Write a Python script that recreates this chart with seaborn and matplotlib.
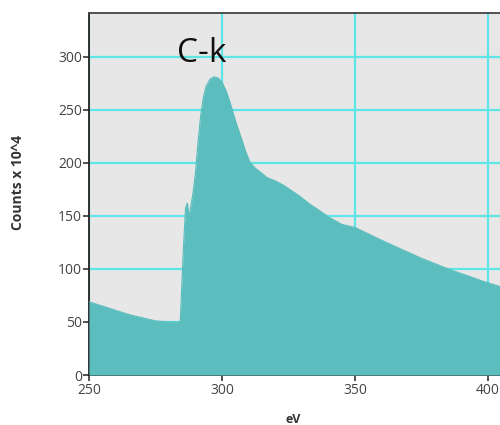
import matplotlib
matplotlib.use("Agg")
import matplotlib.pyplot as plt
import seaborn as sns
import numpy as np
import pandas as pd

# Spectrum values (eV, counts x 10^4)
energy = [250, 255, 260, 265, 270, 275, 280, 283.5, 284.3, 284.8, 285.5, 286.3,
          287.0, 287.5, 288.0, 289.0, 290.0, 291.0, 292.0, 293.0, 294.0, 295.5,
          297.0, 298.5, 300.0, 301.5, 303.0, 305.0, 307.0, 309.0, 310.6, 312.5,
          314.0, 317.0, 320.0, 323.0, 326.0, 329.5, 333.0, 336.0, 340.0, 345.0,
          350.0, 355.0, 360.0, 367.0, 375.0, 386.0, 393.0, 398.5, 405.0]
counts = [69, 65, 61, 57, 54, 51, 50, 50, 51, 80, 120, 158,
          162, 150, 155, 170, 190, 220, 245, 262, 272, 279,
          281, 280, 276, 268, 257, 240, 225, 210, 200, 195,
          192, 186, 183, 179, 174, 168, 161, 156, 149, 142,
          139, 133, 127, 119, 110, 99, 93, 88, 83]

x_ticks = [250, 300, 350, 400]
y_ticks = [0, 50, 100, 150, 200, 250, 300]
peak_label = "C-k"

df = pd.DataFrame({"eV": energy, "counts": counts})

sns.set_theme(style="white")
plt.rcParams["font.family"] = ["Open Sans", "DejaVu Sans"]

fill_color = "#5bbdbd"
grid_color = "#5ee6e6"

fig = plt.figure(figsize=(5.0, 4.25), dpi=100)
ax = fig.add_axes([0.178, 0.1176, 0.822, 0.8514])
ax.set_facecolor("#e7e7e7")

sns.lineplot(data=df, x="eV", y="counts", ax=ax, color=fill_color, linewidth=0.8, zorder=3)
ax.fill_between(df["eV"], df["counts"], 0, color=fill_color, linewidth=0, zorder=3)

ax.set_xlim(250, 404.5)
ax.set_ylim(0, 341)
ax.set_xticks(x_ticks)
ax.set_yticks(y_ticks)
ax.grid(True, color=grid_color, linewidth=1.6, zorder=1)
ax.set_axisbelow(True)

for side in ["left", "bottom"]:
    ax.spines[side].set_color("#222222")
    ax.spines[side].set_linewidth(1.3)
ax.spines["top"].set_color("#444444")
ax.spines["top"].set_linewidth(1.3)
ax.spines["right"].set_visible(False)

ax.tick_params(axis="both", which="major", direction="out", length=4, width=1.1,
               color="#222222", labelsize=10, labelcolor="#444444", pad=1,
               bottom=True, left=True)
ax.tick_params(axis="x", pad=2)

ax.set_xlabel("eV", fontsize=9, fontweight="bold", color="#333333")
ax.xaxis.label.set_va("center")
ax.xaxis.set_label_coords(0.496, -0.124)
ax.set_ylabel("Counts x 10^4", fontsize=10, fontweight="bold", color="#333333")
ax.yaxis.label.set_va("center")
ax.yaxis.set_label_coords(-0.173, 0.533)

ax.text(292.2, 295.3, peak_label, fontsize=24, color="#111111", ha="center",
        va="baseline", zorder=5)

fig.savefig("out.png", dpi=100)
